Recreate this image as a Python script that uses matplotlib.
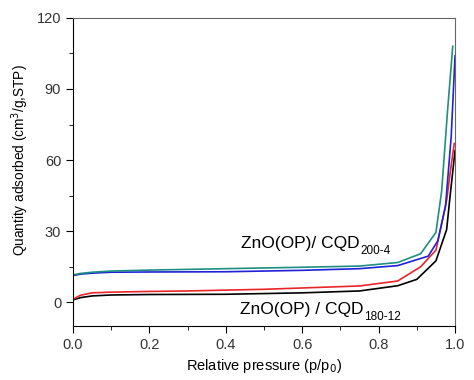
import matplotlib
matplotlib.use('Agg')
import matplotlib.pyplot as plt
from matplotlib.ticker import MultipleLocator

plt.rcParams['font.family'] = ['Liberation Sans', 'DejaVu Sans']

# isotherm data (p/p0, cm3/g STP)
p_green = [0, 0.02, 0.05, 0.1, 0.2, 0.4, 0.6, 0.75, 0.85, 0.91, 0.95, 0.965, 0.98, 0.994]
q_green = [11.6, 12.2, 12.7, 13.2, 13.6, 14.2, 14.8, 15.3, 16.8, 20.5, 29.5, 47, 80, 108]
p_blue = [0, 0.02, 0.05, 0.1, 0.2, 0.4, 0.6, 0.75, 0.85, 0.93, 0.955, 0.975, 0.99, 1.0]
q_blue = [11.3, 11.9, 12.3, 12.7, 12.8, 12.9, 13.5, 14.2, 15.5, 19.5, 26, 40.5, 70, 104]
p_red = [0, 0.02, 0.05, 0.1, 0.2, 0.3, 0.5, 0.75, 0.85, 0.91, 0.95, 0.978, 0.99, 0.998]
q_red = [1.3, 3.0, 4.0, 4.3, 4.6, 4.8, 5.5, 6.9, 9, 15, 22, 43, 58, 67]
p_black = [0, 0.02, 0.05, 0.1, 0.2, 0.4, 0.6, 0.75, 0.85, 0.9, 0.95, 0.978, 0.987, 1.0]
q_black = [1.0, 2.0, 2.7, 3.1, 3.3, 3.4, 4.0, 4.8, 7.0, 9.7, 17.5, 30.7, 44.8, 64]

fig = plt.figure(figsize=(4.74, 3.8), dpi=100)
ax = fig.add_axes([0.154, 0.142, 0.806, 0.811])

ax.plot(p_black, q_black, color='black', lw=1.2)
ax.plot(p_red, q_red, color='#e8262a', lw=1.2)
ax.plot(p_blue, q_blue, color='#1f22d8', lw=1.2)
ax.plot(p_green, q_green, color='#1e8f80', lw=1.2)

ax.set_xlim(0, 1.0)
ax.set_ylim(-10, 120)
ax.xaxis.set_major_locator(MultipleLocator(0.2))
ax.xaxis.set_minor_locator(MultipleLocator(0.1))
ax.yaxis.set_major_locator(MultipleLocator(30))
ax.yaxis.set_minor_locator(MultipleLocator(15))
ax.tick_params(which='both', direction='out', top=False, right=False,
               labelsize=10.5, labelcolor='#333333')
ax.tick_params(which='major', length=5)
ax.tick_params(which='minor', length=3)
ax.xaxis.set_major_formatter(plt.FuncFormatter(lambda v, _: f'{v:.1f}'))

for s in ['top', 'right']:
    ax.spines[s].set_color('#666666')

ax.set_xlabel('Relative pressure (p/p$_0$)', fontsize=10.5)
ax.set_ylabel('Quantity adsorbed (cm$^3$/g,STP)', fontsize=9.8)
ax.yaxis.set_label_coords(-0.11, 0.54)

# sample labels, subscript as a smaller text hung off the main one
t1 = ax.text(0.44, 24.8, 'ZnO(OP)/ CQD', fontsize=12.5, va='center')
ax.annotate('200-4', xy=(1, 0), xycoords=t1, xytext=(0.5, 0),
            textcoords='offset points', fontsize=8.5, va='center')
t2 = ax.text(0.437, -3, 'ZnO(OP) / CQD', fontsize=12.5, va='center')
ax.annotate('180-12', xy=(1, 0), xycoords=t2, xytext=(0.5, 0),
            textcoords='offset points', fontsize=8.5, va='center')

plt.savefig('out.png', dpi=100)
